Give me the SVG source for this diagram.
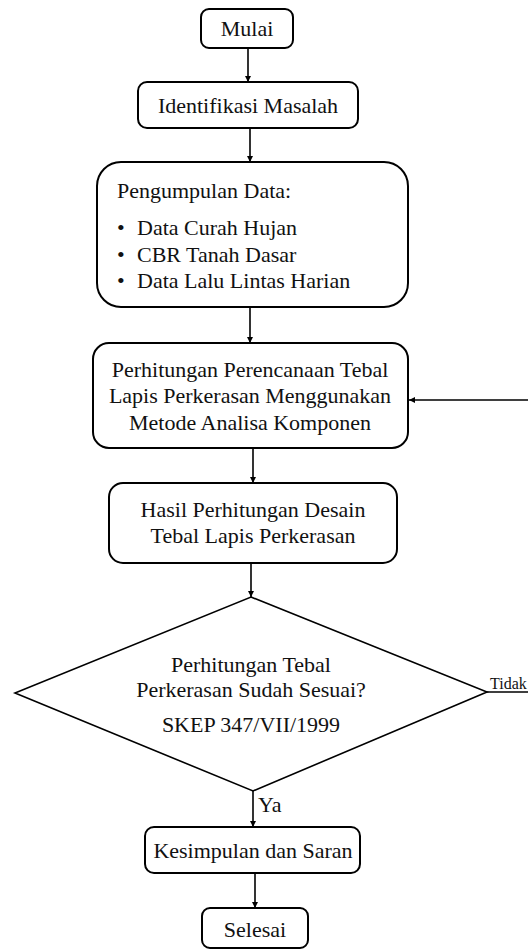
<svg xmlns="http://www.w3.org/2000/svg" width="528" height="952" viewBox="0 0 528 952">
<style>
.box{fill:#fff;stroke:#000;stroke-width:2}
.t{font-family:'Liberation Serif','Times New Roman','DejaVu Serif',serif;font-size:22px;fill:#111}
.c{text-anchor:middle}
.s{font-size:16px}
.ln{fill:none;stroke:#000;stroke-width:1.6}
</style>
<defs>
<marker id="ah" viewBox="0 0 10 10" refX="10" refY="5" markerWidth="6" markerHeight="6" orient="auto" markerUnits="userSpaceOnUse">
<path d="M0,0 L10,5 L0,10 z" fill="#000"/>
</marker>
</defs>
<rect width="528" height="952" fill="#fff"/>
<g id="connectors">
<line class="ln" x1="248" y1="48" x2="248" y2="82" marker-end="url(#ah)"/>
<line class="ln" x1="250" y1="128" x2="250" y2="162" marker-end="url(#ah)"/>
<line class="ln" x1="250" y1="307" x2="250" y2="343" marker-end="url(#ah)"/>
<line class="ln" x1="253" y1="448" x2="253" y2="483" marker-end="url(#ah)"/>
<line class="ln" x1="251" y1="563" x2="251" y2="597" marker-end="url(#ah)"/>
<line class="ln" x1="253" y1="791" x2="253" y2="827" marker-end="url(#ah)"/>
<line class="ln" x1="255" y1="873" x2="255" y2="908" marker-end="url(#ah)"/>
<path class="ln" d="M487 692 H532 V400 H409" marker-end="url(#ah)"/>
</g>
<g id="mulai">
<rect class="box" x="201" y="9" width="92" height="39" rx="8"/>
<text class="t c" x="247" y="36">Mulai</text>
</g>
<g id="identifikasi">
<rect class="box" x="138" y="82" width="220" height="46" rx="9"/>
<text class="t c" x="248" y="113">Identifikasi Masalah</text>
</g>
<g id="pengumpulan">
<rect class="box" x="97" y="162" width="311" height="145" rx="24"/>
<text class="t" x="117" y="198">Pengumpulan Data:</text>
<text class="t" x="117" y="235">•</text>
<text class="t" x="137" y="235">Data Curah Hujan</text>
<text class="t" x="117" y="262">•</text>
<text class="t" x="137" y="262">CBR Tanah Dasar</text>
<text class="t" x="117" y="288">•</text>
<text class="t" x="137" y="288">Data Lalu Lintas Harian</text>
</g>
<g id="perhitungan">
<rect class="box" x="93" y="343" width="315" height="105" rx="16"/>
<text class="t c" x="250" y="377">Perhitungan Perencanaan Tebal</text>
<text class="t c" x="250" y="403">Lapis Perkerasan Menggunakan</text>
<text class="t c" x="250" y="430">Metode Analisa Komponen</text>
</g>
<g id="hasil">
<rect class="box" x="109" y="483" width="288" height="80" rx="14"/>
<text class="t c" x="253" y="517">Hasil Perhitungan Desain</text>
<text class="t c" x="253" y="543">Tebal Lapis Perkerasan</text>
</g>
<g id="keputusan">
<polygon points="251,597 487,692 253,791 15,693" fill="#fff" stroke="#000" stroke-width="1.6"/>
<text class="t c" x="251" y="672">Perhitungan Tebal</text>
<text class="t c" x="251" y="697">Perkerasan Sudah Sesuai?</text>
<text class="t c" x="251" y="732">SKEP 347/VII/1999</text>
<text class="t s" x="490" y="689">Tidak</text>
<text class="t" x="258" y="812">Ya</text>
</g>
<g id="kesimpulan">
<rect class="box" x="145" y="827" width="215" height="46" rx="9"/>
<text class="t c" x="253" y="858">Kesimpulan dan Saran</text>
</g>
<g id="selesai">
<rect class="box" x="202" y="908" width="106" height="40" rx="8"/>
<text class="t c" x="255" y="937">Selesai</text>
</g>
</svg>
